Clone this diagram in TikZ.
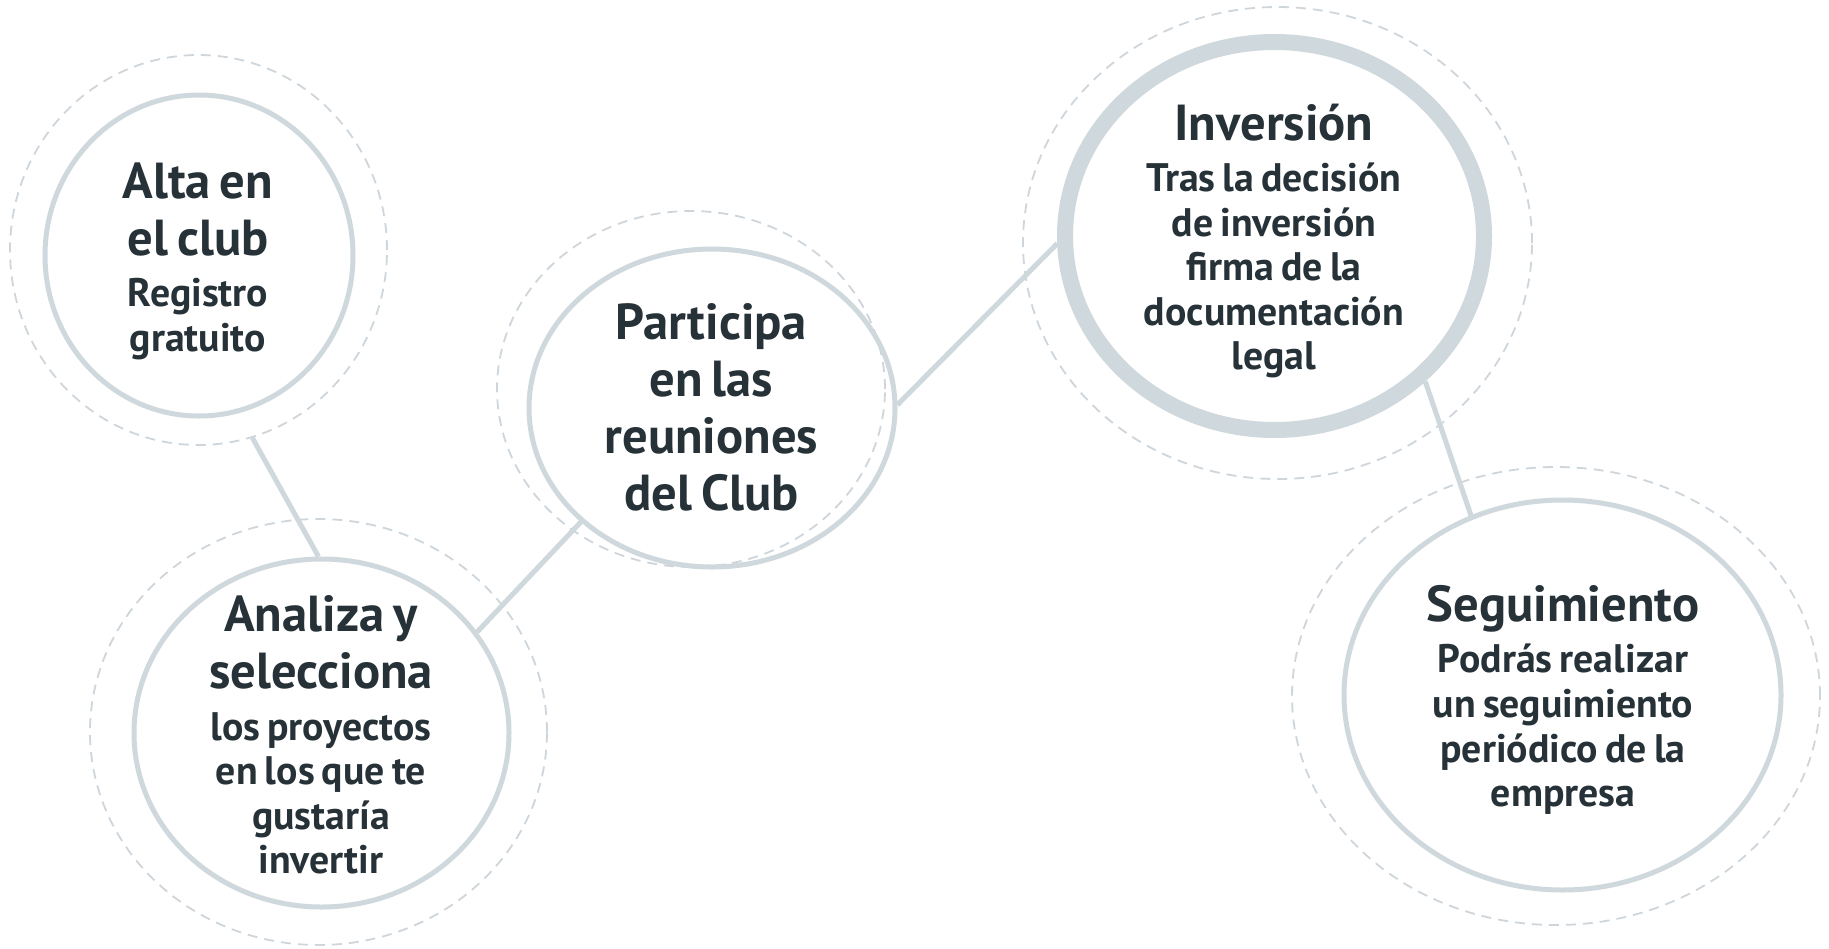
\documentclass[tikz,border=0pt]{standalone}
\usepackage{fontspec}
\setmainfont{PT Sans}
\usetikzlibrary{shapes.geometric}
\definecolor{ring}{HTML}{CFD8DC}
\definecolor{dashc}{HTML}{CFD6DB}
\definecolor{ink}{HTML}{263238}
\newcommand\ttlf{\fontsize{25.3pt}{28.5pt}\selectfont\spaceskip=0.18em\relax}
\newcommand\subf{\fontsize{19.9pt}{22.3pt}\selectfont\spaceskip=0.18em\relax}
\newcommand\tgap{\par\vspace{3.4pt}}
\begin{document}
\begin{tikzpicture}[x=0.5pt,y=-0.5pt,
  solidring/.style={ellipse, draw=ring, line width=2.5pt, inner sep=0pt},
  thickring/.style={ellipse, draw=ring, line width=8pt, inner sep=0pt},
  dashring/.style={ellipse, draw=dashc, line width=0.9pt, dash pattern=on 5pt off 3.5pt, inner sep=0pt},
  link/.style={draw=ring, line width=2.5pt},
  label/.style={text=ink, font=\bfseries, align=center, text width=200pt, inner sep=0pt}]
\fill[white] (0,0) rectangle (1829,948);
\useasboundingbox (0,0) rectangle (1829,948);

% dashed outer rings
\node[dashring, minimum width=188.5pt, minimum height=195pt] (Adash) at (198.5,250) {};
\node[dashring, minimum width=228.5pt, minimum height=213pt] (Bdash) at (318.5,732) {};
\node[dashring, minimum width=194pt, minimum height=178pt] (Cdash) at (691,389) {};
\node[dashring, minimum width=254.5pt, minimum height=236pt] (Ddash) at (1277.5,243) {};
\node[dashring, minimum width=264pt, minimum height=229pt] (Edash) at (1556,696) {};

% solid rings
\node[solidring, minimum width=154pt, minimum height=160.5pt] (Asol) at (199,255.5) {};
\node[solidring, minimum width=187.5pt, minimum height=174pt] (Bsol) at (321.5,733) {};
\node[solidring, minimum width=183pt, minimum height=159pt] (Csol) at (712,408) {};
\node[thickring, minimum width=209.5pt, minimum height=194pt] (Dsol) at (1274.5,236) {};
\node[solidring, minimum width=218.5pt, minimum height=195pt] (Esol) at (1562.5,695) {};

% connectors
\draw[link] (Adash.286) -- (Bsol.91);
\draw[link] (Bsol.33.7) -- (Csol.221);
\draw[link] (Csol.1) -- (Dsol.182);
\draw[link] (Dsol.-44.3) -- (Esol.117.5);

% texts
\node[label] (At) at (198,261) {\ttlf Alta en\\el club\tgap\subf Registro\\gratuito\par};
\node[label] (Bt) at (321,735) {\ttlf Analiza y\\selecciona\tgap\subf los proyectos\\en los que te\\gustaría\\invertir\par};
\node[label] (Ct) at (711.5,407) {\ttlf Participa\\en las\\reuniones\\del Club\par};
\node[label] (Dt) at (1274,241) {\ttlf Inversión\tgap\subf Tras la decisión\\de inversión\\firma de la\\documentación\\legal\par};
\node[label] (Et) at (1563,700) {\ttlf Seguimiento\tgap\subf Podrás realizar\\un seguimiento\\periódico de la\\empresa\par};
\end{tikzpicture}
\end{document}
